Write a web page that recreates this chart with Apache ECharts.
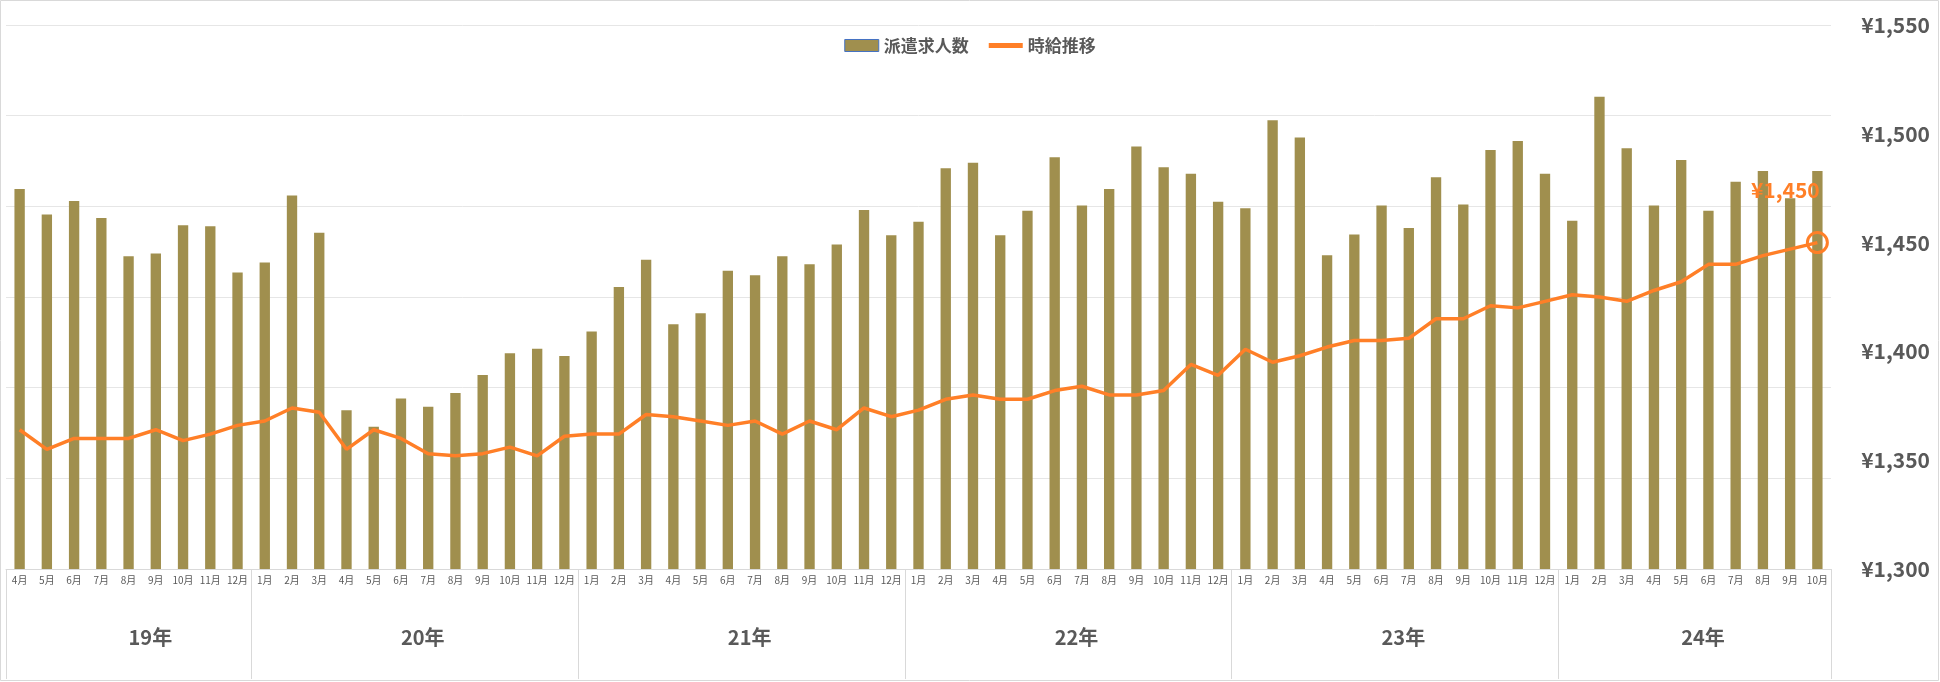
<!DOCTYPE html>
<html><head><meta charset="utf-8">
<script src="https://cdn.jsdelivr.net/npm/echarts@6/dist/echarts.min.js"></script>
<style>html,body{margin:0;padding:0;background:#fff}#c{width:1940px;height:682px}</style>
</head><body><div id="c"></div>
<script>
const months = ['4月','5月','6月','7月','8月','9月','10月','11月','12月',
 '1月','2月','3月','4月','5月','6月','7月','8月','9月','10月','11月','12月',
 '1月','2月','3月','4月','5月','6月','7月','8月','9月','10月','11月','12月',
 '1月','2月','3月','4月','5月','6月','7月','8月','9月','10月','11月','12月',
 '1月','2月','3月','4月','5月','6月','7月','8月','9月','10月','11月','12月',
 '1月','2月','3月','4月','5月','6月','7月','8月','9月','10月'];
const years = ['19年','20年','21年','22年','23年','24年'];
const yearCounts = [9,12,12,12,12,10];
// 派遣求人数 (relative, hidden axis 0-60)
const jobs = [41.9,39.1,40.6,38.7,34.5,34.8,37.9,37.8,32.7,
 33.8,41.2,37.1,17.5,15.7,18.8,17.9,19.4,21.4,23.8,24.3,23.5,
 26.2,31.1,34.1,27.0,28.2,32.9,32.4,34.5,33.6,35.8,39.6,36.8,
 38.3,44.2,44.8,36.8,39.5,45.4,40.1,41.9,46.6,44.3,43.6,40.5,
 39.8,49.5,47.6,34.6,36.9,40.1,37.6,43.2,40.2,46.2,47.2,43.6,
 38.4,52.1,46.4,40.1,45.1,39.5,42.7,43.9,40.9,43.9];
// 時給推移 (yen)
const wage = [1364,1355,1360,1360,1360,1364,1359,1362,1366,
 1368,1374,1372,1355,1364,1360,1353,1352,1353,1356,1352,1361,
 1362,1362,1371,1370,1368,1366,1368,1362,1368,1364,1374,1370,
 1373,1378,1380,1378,1378,1382,1384,1380,1380,1382,1394,1389,
 1401,1395,1398,1402,1405,1405,1406,1415,1415,1421,1420,1423,
 1426,1425,1423,1428,1432,1440,1440,1444,1447,1450];
const wageTicks = [1300,1350,1400,1450,1500,1550];

const starts=[]; let s=0; for(const n of yearCounts){starts.push(s); s+=n;}
const yearLabelIdx = {}; starts.forEach((st,i)=>{yearLabelIdx[st+Math.floor((yearCounts[i]-1)/2)]=years[i];});
const cats = months.map((m,i)=>i);
const wageData = wage.map((v,i)=> i===wage.length-1 ? {value:v,symbol:'circle',symbolSize:20,
  itemStyle:{color:'rgba(0,0,0,0)',borderColor:'#FF7F27',borderWidth:3},
  label:{show:true,position:[-55,-52],formatter:'¥1,450',color:'#FF7F27',fontSize:21,fontWeight:'bold',fontFamily:'Noto Sans CJK JP'}} : v);

const chart = echarts.init(document.getElementById('c'));
chart.setOption({
  animation:false,
  textStyle:{fontFamily:'"Noto Sans CJK JP", "Noto Sans", sans-serif'},
  graphic:[{type:'rect',shape:{x:0.5,y:0.5,width:1938,height:680},style:{fill:'none',stroke:'#d9d9d9',lineWidth:1}}],
  legend:{top:32,left:'center',itemGap:20,textStyle:{fontSize:17,fontWeight:'bold',color:'#595959'},
    data:[{name:'派遣求人数',icon:'rect',itemStyle:{borderColor:'#4472C4',borderWidth:1}},{name:'時給推移',icon:'path://M0,4h20v3h-20z'}],itemWidth:34,itemHeight:12},
  grid:{left:6,right:109,top:25,bottom:113},
  xAxis:[
    {type:'category',data:cats,position:'bottom',axisLine:{lineStyle:{color:'#d9d9d9'}},axisTick:{show:false},
     axisLabel:{interval:0,formatter:(v)=>months[v],fontSize:10,color:'#595959',margin:6}},
    {type:'category',data:cats,position:'bottom',axisLine:{show:false},
     axisTick:{show:true,length:110,interval:(i)=>starts.includes(i),lineStyle:{color:'#d9d9d9'}},
     axisLabel:{interval:0,formatter:(v)=>yearLabelIdx[v]||'',fontSize:20,fontWeight:'bold',color:'#595959',margin:58,align:'left'}}
  ],
  yAxis:[
    {type:'value',min:0,max:60,interval:10,position:'left',axisLabel:{show:false},axisLine:{show:false},splitLine:{lineStyle:{color:'#e6e6e6'}}},
    {type:'value',min:1300,max:1550,interval:50,position:'right',axisLine:{show:false},splitLine:{show:false},
     axisLabel:{formatter:(v)=>'¥'+v.toLocaleString('en-US'),fontSize:21,fontWeight:'bold',color:'#595959',align:'right',margin:99}}
  ],
  series:[
    {name:'派遣求人数',type:'bar',data:jobs,barWidth:'38%',itemStyle:{color:'#A08F4E'},xAxisIndex:0,yAxisIndex:0},
    {name:'時給推移',type:'line',data:wageData,yAxisIndex:1,xAxisIndex:0,symbol:'none',showSymbol:true,
     lineStyle:{color:'#FF7F27',width:3.5},itemStyle:{color:'#FF7F27'}}
  ]
});
</script></body></html>
